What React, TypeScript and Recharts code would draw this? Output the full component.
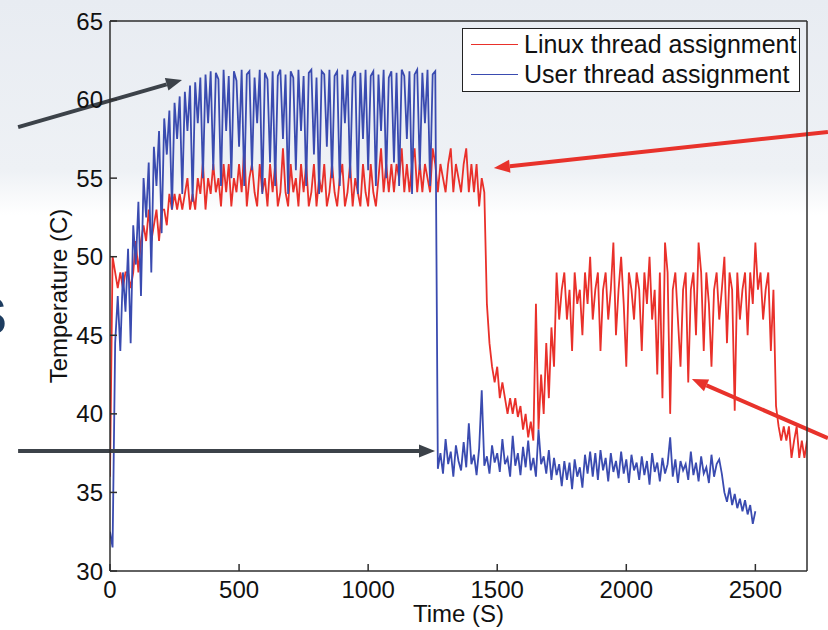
import React from 'react';
import { LineChart, Line, XAxis, YAxis, ReferenceLine, Legend } from 'recharts';

const FONT = '"Liberation Sans", Arial, sans-serif';
const STEP = 10; // sampling interval of both traces, seconds

const xTicks = [0, 500, 1000, 1500, 2000, 2500];
const yTicks = [30, 35, 40, 45, 50, 55, 60, 65];

// Linux thread assignment, t = 0 .. 2700 s
const linuxTemps = [
  36.0, 50.0, 49.0, 48.0, 49.0, 48.0, 49.0, 49.0, 48.0, 49.0,
  51.0, 49.0, 51.0, 52.0, 51.0, 53.0, 51.0, 52.0, 53.0, 51.0,
  53.0, 53.0, 52.0, 54.0, 53.0, 54.0, 53.0, 54.0, 53.0, 54.0,
  55.0, 53.0, 54.0, 53.0, 55.0, 54.0, 56.0, 53.0, 55.0, 54.0,
  55.9, 54.1, 55.0, 53.2, 55.9, 54.1, 55.9, 53.2, 55.0, 54.1,
  55.9, 54.1, 56.9, 53.2, 55.0, 55.9, 54.1, 53.2, 55.9, 54.1,
  55.0, 53.2, 55.9, 54.1, 55.9, 53.2, 54.1, 56.9, 54.1, 53.2,
  55.9, 54.1, 55.0, 53.2, 55.9, 54.1, 55.9, 53.2, 54.1, 55.9,
  53.2, 55.0, 54.1, 55.9, 53.2, 54.1, 55.9, 54.1, 53.2, 55.0,
  55.9, 53.2, 54.1, 55.9, 53.2, 55.0, 54.1, 53.2, 55.9, 54.1,
  53.2, 55.9, 54.1, 53.2, 55.0, 56.9, 54.1, 55.9, 54.1, 55.9,
  54.1, 55.9, 55.0, 56.9, 54.1, 55.9, 54.1, 55.9, 56.9, 54.1,
  55.9, 54.1, 55.9, 55.0, 54.1, 56.9, 55.9, 54.1, 55.9, 55.0,
  54.1, 55.9, 56.9, 54.1, 55.9, 55.0, 54.1, 55.9, 56.9, 54.1,
  55.9, 54.1, 55.9, 53.2, 55.0, 54.1,
  47.0, 44.5, 43.0, 42.0, 43.0, 41.0, 42.0, 41.0, 40.0, 41.0,
  40.0, 41.0, 39.8, 40.5, 39.0, 40.0, 38.5, 39.5, 38.3, 47.0,
  39.0, 42.5, 40.0, 44.5, 41.0, 45.5, 43.0, 49.0, 46.0,
  47.9, 49.0, 46.0, 47.9, 44.0, 49.0, 47.0, 47.9, 45.0, 49.0,
  47.0, 50.0, 46.0, 47.9, 49.0, 44.0, 47.9, 49.0, 46.0, 47.9,
  50.9, 45.0, 47.9, 50.0, 47.0, 43.0, 49.0, 47.9, 46.0, 49.0,
  47.9, 44.0, 49.0, 47.0, 50.0, 46.0, 47.9, 42.5, 49.0, 41.0,
  50.9, 49.0, 40.0, 47.9, 49.0, 46.0, 43.0, 47.9, 49.0, 42.0,
  47.9, 49.0, 45.0, 50.9, 49.0, 44.0, 49.0, 47.0, 43.0, 47.9,
  49.0, 46.0, 47.9, 50.0, 44.5, 49.0, 47.9, 40.2, 49.0, 46.0,
  47.9, 49.0, 45.0, 49.0, 47.0, 50.9, 47.9, 49.0, 46.0, 47.9,
  49.0, 44.0, 47.9,
  40.5, 39.2, 38.3, 39.2, 38.3, 39.2, 37.2, 38.3, 39.2, 37.2,
  38.3, 37.2, 38.3,
];

// User thread assignment, t = 0 .. 2500 s
const userTemps = [
  32.5, 31.5, 44.5, 47.5, 44.0, 49.0, 46.5, 50.5, 44.5, 52.0,
  49.5, 53.5, 47.5, 55.0, 52.5, 56.0, 49.0, 57.0, 54.5, 58.0,
  51.5, 58.8, 56.5, 59.3, 53.0, 59.8, 57.5, 60.2, 54.0, 60.5,
  58.0, 60.9, 53.5, 61.1, 58.5, 61.4, 55.0, 61.6, 58.5, 61.8,
  55.5, 61.7, 61.3, 54.5, 61.9, 58.0, 61.5, 55.0, 61.8, 61.2,
  57.0, 61.9, 54.5, 61.6, 61.8, 55.5, 61.4, 58.5, 61.9, 54.0,
  61.7, 61.3, 56.0, 61.8, 54.5, 61.5, 61.9, 57.5, 61.6, 54.0,
  61.8, 61.4, 55.5, 61.9, 58.0, 61.5, 54.5, 61.7, 61.9, 56.5,
  61.4, 54.0, 61.8, 61.6, 57.0, 61.9, 55.0, 61.5, 61.8, 54.5,
  61.6, 58.5, 61.9, 55.0, 61.4, 61.8, 54.0, 61.7, 57.5, 61.9,
  55.5, 61.5, 61.8, 54.5, 61.6, 58.0, 61.9, 55.0, 61.4, 61.8,
  56.0, 61.7, 54.5, 61.9, 61.5, 57.5, 61.8, 54.0, 61.6, 61.9,
  55.5, 61.7, 58.5, 61.9, 54.5, 61.6, 61.8,
  36.5, 37.5, 36.2, 38.4, 36.8, 37.6, 36.0, 38.0, 37.0, 36.4,
  38.2, 36.6, 39.4, 36.8, 37.4, 36.1, 37.8, 41.5, 36.7, 37.3,
  36.2, 38.0, 36.9, 37.5, 36.3, 38.4, 36.8, 37.2, 36.0, 38.6,
  36.7, 37.5, 36.1, 37.9, 36.6, 38.3, 36.4, 37.2, 36.0, 39.0,
  36.8, 37.3, 36.2, 37.7, 35.8, 37.2, 36.1, 36.8, 35.4, 37.0,
  35.8, 36.9, 35.2, 37.1, 36.0, 36.6, 35.3, 37.4, 36.2, 37.6,
  36.0, 37.5, 35.8, 37.7, 36.4, 37.2, 35.7, 37.5, 36.3, 37.0,
  35.9, 37.6, 36.2, 37.1, 35.6, 37.4, 36.4, 36.9, 35.8, 37.3,
  36.1, 37.0, 35.5, 37.5, 36.3, 36.9, 35.7, 37.2, 36.2, 36.8,
  38.5, 36.0, 37.1, 35.6, 37.0, 36.4, 36.8, 35.8, 37.6, 36.1,
  36.9, 35.7, 37.3, 36.2, 36.6, 35.6, 37.4, 36.0, 36.8, 37.1,
  36.2, 35.0, 34.4, 35.3, 34.2, 34.9, 34.0, 34.6, 33.8, 34.5,
  33.6, 34.2, 33.0, 33.8,
];

const linuxData = linuxTemps.map((v, i) => ({ t: i * STEP, v }));
const userData = userTemps.map((v, i) => ({ t: i * STEP, v }));

const RED = '#e9302a';
const BLUE = '#3a4bb0';
const AXIS = '#2e2e2e';

const series = [
  { name: 'Linux thread assignment', color: RED },
  { name: 'User thread assignment', color: BLUE },
];

// slide annotation arrows (tail -> head), in data units
const arrows = [
  { from: [-356, 58.25], to: [279, 61.25], color: '#3c4249' },
  { from: [-356, 37.64], to: [1259, 37.64], color: '#3c4249' },
  { from: [2781, 57.94], to: [1487, 55.65], color: '#e8322b' },
  { from: [2781, 38.45], to: [2254, 42.22], color: '#e8322b' },
];

const arrowShape = (color: string) => (p: any) => {
  const { x1, y1, x2, y2 } = p;
  const a = Math.atan2(y2 - y1, x2 - x1);
  const len = 16;
  const half = 6.5;
  const bx = x2 - len * Math.cos(a);
  const by = y2 - len * Math.sin(a);
  const s = Math.sin(a);
  const c = Math.cos(a);
  const pts = `${x2},${y2} ${bx + half * s},${by - half * c} ${bx - half * s},${by + half * c}`;
  return (
    <g>
      <line x1={x1} y1={y1} x2={bx} y2={by} stroke={color} strokeWidth={4} />
      <polygon points={pts} fill={color} />
    </g>
  );
};

const LegendBox = () => (
  <div
    style={{
      width: 338,
      height: 64,
      boxSizing: 'border-box',
      border: '1.5px solid #222',
      background: '#fff',
      fontFamily: FONT,
      fontSize: 25,
      color: '#111',
      paddingLeft: 8,
    }}
  >
    {series.map((s) => (
      <div key={s.name} style={{ display: 'flex', alignItems: 'center', height: 30 }}>
        <div style={{ width: 47, borderTop: `1.5px solid ${s.color}`, marginRight: 6 }} />
        <span style={{ lineHeight: '30px', whiteSpace: 'nowrap' }}>{s.name}</span>
      </div>
    ))}
  </div>
);

const tickStyle = { fill: '#111', fontSize: 24, fontFamily: FONT };

export default function App() {
  return (
    <div
      style={{
        position: 'absolute',
        left: 0,
        top: 0,
        width: 828,
        height: 630,
        overflow: 'hidden',
        background: 'linear-gradient(to bottom, #e8ecf2 0px, #eef1f5 170px, #ffffff 215px)',
      }}
    >
      <div
        style={{
          position: 'absolute',
          left: -28,
          top: 286,
          fontSize: 52,
          fontWeight: 700,
          color: '#1e3d60',
          fontFamily: FONT,
        }}
      >
        S
      </div>
      <LineChart width={828} height={630} margin={{ top: 0, right: 0, bottom: 0, left: 0 }}>
        <XAxis
          dataKey="t"
          type="number"
          domain={[0, 2700]}
          ticks={xTicks}
          allowDataOverflow
          height={59}
          tickSize={-7}
          tickMargin={17}
          tick={tickStyle}
          axisLine={{ stroke: AXIS, strokeWidth: 1.5 }}
          tickLine={{ stroke: AXIS, strokeWidth: 1.5 }}
          label={{ value: 'Time (S)', position: 'insideBottom', offset: 8, fill: '#111', fontSize: 24, fontFamily: FONT }}
        />
        <XAxis
          xAxisId="top"
          orientation="top"
          type="number"
          domain={[0, 2700]}
          ticks={xTicks}
          allowDataOverflow
          height={21}
          tickSize={-7}
          tick={false}
          axisLine={{ stroke: AXIS, strokeWidth: 1.5 }}
          tickLine={{ stroke: AXIS, strokeWidth: 1.5 }}
        />
        <YAxis
          type="number"
          domain={[30, 65]}
          ticks={yTicks}
          allowDataOverflow
          width={110}
          tickSize={-7}
          tickMargin={14}
          tick={tickStyle}
          axisLine={{ stroke: AXIS, strokeWidth: 1.5 }}
          tickLine={{ stroke: AXIS, strokeWidth: 1.5 }}
          label={{ value: 'Temperature (C)', angle: -90, position: 'insideLeft', offset: 58, fill: '#111', fontSize: 24, fontFamily: FONT, style: { textAnchor: 'middle' } }}
        />
        <YAxis
          yAxisId="right"
          orientation="right"
          type="number"
          domain={[30, 65]}
          ticks={yTicks}
          allowDataOverflow
          width={21}
          tickSize={-7}
          tick={false}
          axisLine={{ stroke: AXIS, strokeWidth: 1.5 }}
          tickLine={{ stroke: AXIS, strokeWidth: 1.5 }}
        />
        <Line
          data={linuxData}
          dataKey="v"
          name="Linux thread assignment"
          type="linear"
          stroke={RED}
          strokeWidth={1.8}
          dot={false}
          activeDot={false}
          isAnimationActive={false}
        />
        <Line
          data={userData}
          dataKey="v"
          name="User thread assignment"
          type="linear"
          stroke={BLUE}
          strokeWidth={1.8}
          dot={false}
          activeDot={false}
          isAnimationActive={false}
        />
        {arrows.map((a, i) => (
          <ReferenceLine
            key={i}
            segment={[
              { x: a.from[0], y: a.from[1] },
              { x: a.to[0], y: a.to[1] },
            ]}
            ifOverflow="visible"
            shape={arrowShape(a.color)}
          />
        ))}
        <Legend
          layout="vertical"
          align="center"
          verticalAlign="middle"
          wrapperStyle={{ left: 462, top: 28, width: 338, height: 64 }}
          content={() => <LegendBox />}
        />
      </LineChart>
    </div>
  );
}
